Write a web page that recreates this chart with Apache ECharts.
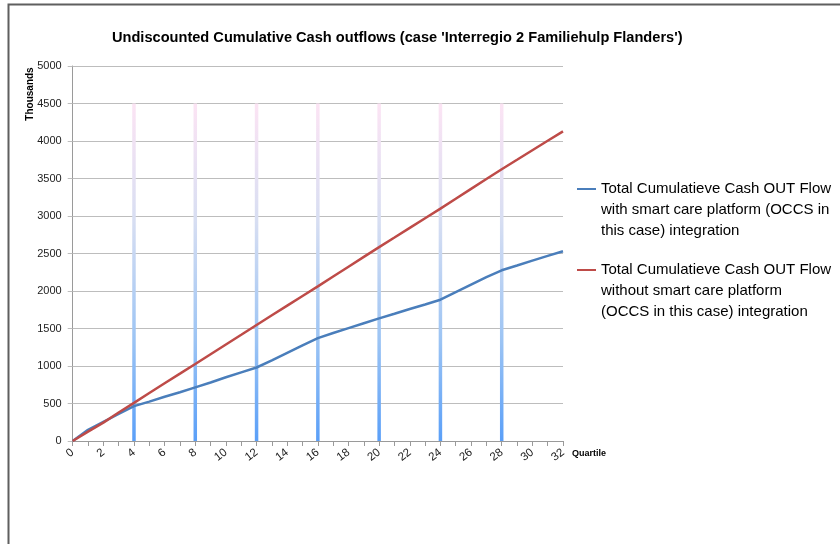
<!DOCTYPE html>
<html>
<head>
<meta charset="utf-8">
<script src="https://cdn.jsdelivr.net/npm/echarts@6/dist/echarts.min.js"></script>
<style>html,body{margin:0;padding:0;background:#fff;}#c{width:840px;height:544px;}</style>
</head>
<body>
<div id="c"></div>
<script>
var titleText = "Undiscounted Cumulative Cash outflows (case 'Interregio 2 Familiehulp Flanders')";
var yAxisName = "Thousands";
var xAxisName = "Quartile";
var seriesNames = [
  "Total Cumulatieve Cash OUT Flow\nwith smart care platform (OCCS in\nthis case) integration",
  "Total Cumulatieve Cash OUT Flow\nwithout smart care platform\n(OCCS in this case) integration"
];
var quarters = [0,1,2,3,4,5,6,7,8,9,10,11,12,13,14,15,16,17,18,19,20,21,22,23,24,25,26,27,28,29,30,31,32];
var withPlatform = [0,150,255,360,465,525,590,650,715,780,850,915,980,1075,1175,1275,1372,1440,1505,1570,1635,1697,1760,1820,1884,1985,2085,2185,2276,2340,2405,2468,2530];
var withoutPlatform = [0,125,245,380,509,640,770,898,1027,1157,1287,1416,1547,1676,1805,1934,2062,2193,2324,2455,2585,2713,2842,2970,3098,3230,3362,3493,3624,3750,3877,4003,4129];
var markerQuarters = [4,8,12,16,20,24,28];
var markerValues = [4500,4500,4500,4500,4500,4500,4500];

var chart = echarts.init(document.getElementById('c'));
var font = 'Liberation Sans';
function pairs(xs, ys){ return xs.map(function(x,i){ return [x, ys[i]]; }); }
// legend icon: a short line level with the first text line of a 3-line label
var legendIcon = 'path://M0,0 L0.01,0 L0,0.01 Z M0,9.5 L19,9.5 L19,11.5 L0,11.5 Z M0,63 L0.01,63 L0,62.99 Z';
function legendCfg(name, top){
  return {
    data: [name], orient: 'vertical', left: 572, top: top, padding: 5,
    itemWidth: 19, itemHeight: 63, icon: legendIcon,
    textStyle: { fontFamily: font, fontSize: 15, color: '#000', lineHeight: 21 }
  };
}

var option = {
  animation: false,
  backgroundColor: '#ffffff',
  title: {
    text: titleText,
    left: 107, top: 25,
    textStyle: { fontFamily: font, fontSize: 14.6, fontWeight: 'bold', color: '#000' }
  },
  grid: { left: 72.7, right: 277, top: 66, bottom: 103 },
  legend: [ legendCfg(seriesNames[0], 173.5), legendCfg(seriesNames[1], 254.5) ],
  graphic: [
    { type: 'polyline', shape: { points: [[8.5, 544], [8.5, 4.5], [840, 4.5]] }, style: { stroke: '#5f5f5f', lineWidth: 2, fill: null } },
    { type: 'text', x: 30, y: 94, rotation: Math.PI / 2,
      style: { text: yAxisName, fontFamily: font, fontSize: 10, fontWeight: 'bold', fill: '#000', align: 'center', verticalAlign: 'middle' } }
  ],
  xAxis: {
    type: 'value', min: 0, max: 32, interval: 1,
    name: xAxisName, nameLocation: 'end', nameGap: 3,
    nameTextStyle: { fontFamily: font, fontSize: 9, fontWeight: 'bold', color: '#000', align: 'left', verticalAlign: 'top', padding: [8,0,0,0] },
    axisLine: { show: true, lineStyle: { color: '#9a9a9a', width: 1 } },
    axisTick: { show: true, length: 5, lineStyle: { color: '#9a9a9a' } },
    splitLine: { show: false },
    axisLabel: {
      rotate: 38, margin: 10, fontFamily: font, fontSize: 11.5, color: '#222',
      formatter: function(v){ return (v % 2 === 0) ? String(v) : ''; }
    }
  },
  yAxis: {
    type: 'value', min: 0, max: 5000, interval: 500,
    axisLine: { show: true, lineStyle: { color: '#9a9a9a', width: 1 } },
    axisTick: { show: true, length: 5, lineStyle: { color: '#bdbdbd' } },
    splitLine: { show: true, lineStyle: { color: '#bdbdbd', width: 1 } },
    axisLabel: { margin: 11, fontFamily: font, fontSize: 11, color: '#222',
      formatter: function(v){ return String(v); } }
  },
  series: [
    {
      type: 'bar', name: 'markers', data: pairs(markerQuarters, markerValues), barWidth: 3.5,
      itemStyle: {
        color: new echarts.graphic.LinearGradient(0, 0, 0, 1, [
          { offset: 0, color: '#fce4f4' },
          { offset: 0.35, color: '#d7def2' },
          { offset: 0.7, color: '#9cc4f4' },
          { offset: 1, color: '#5a9ff8' }
        ])
      },
      silent: true, z: 1
    },
    {
      type: 'line', name: seriesNames[0], data: pairs(quarters, withPlatform),
      showSymbol: false, symbol: 'none', lineStyle: { color: '#4a7ebb', width: 2.5 }, itemStyle: { color: '#4a7ebb' }, z: 3
    },
    {
      type: 'line', name: seriesNames[1], data: pairs(quarters, withoutPlatform),
      showSymbol: false, symbol: 'none', lineStyle: { color: '#be4b48', width: 2.5 }, itemStyle: { color: '#be4b48' }, z: 4
    }
  ]
};
chart.setOption(option);
</script>
</body>
</html>
